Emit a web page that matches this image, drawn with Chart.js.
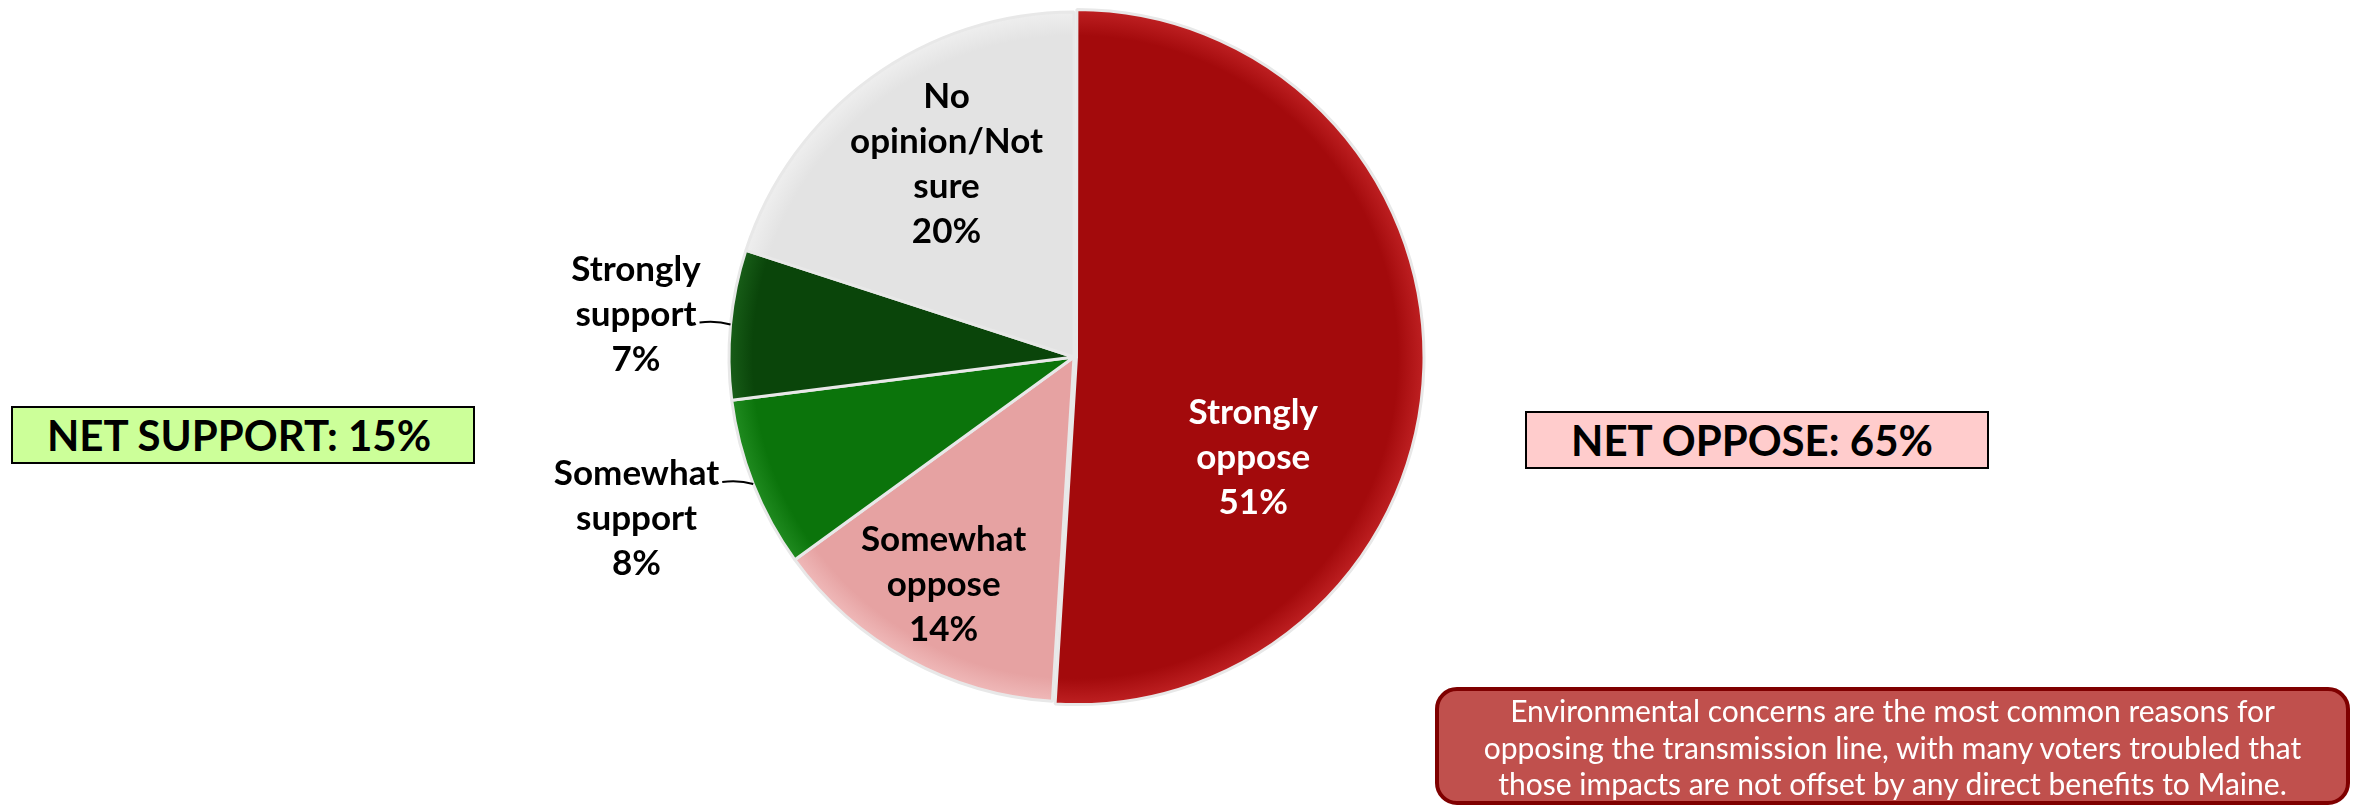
<!DOCTYPE html>
<html>
<head>
<meta charset="utf-8">
<script src="https://cdn.jsdelivr.net/npm/chart.js@4/dist/chart.umd.min.js"></script>
<style>
  html, body { margin: 0; padding: 0; background: #fff; }
  body { width: 2356px; height: 807px; position: relative; overflow: hidden; font-family: Lato, 'Open Sans', sans-serif; }
  #pie { position: absolute; left: 0; top: 0; }
  .net { position: absolute; box-sizing: border-box; border: 2px solid #000; font-weight: 700; font-size: 42px; color: #000; text-align: center; line-height: 54px; }
  #netSupport { left: 11px; top: 406px; width: 464px; height: 58px; background: #ccff99; padding-right: 8px; }
  #netOppose { left: 1525px; top: 411px; width: 464px; height: 58px; background: #ffcccc; padding-right: 10px; }
  #note { position: absolute; left: 1435px; top: 687px; width: 915px; height: 118px; box-sizing: border-box;
          background: #c0504d; border: 4px solid #7f0000; border-radius: 22px; color: #fff;
          font-size: 30px; line-height: 36.5px; text-align: center; padding-top: 1px; }
</style>
</head>
<body>
<canvas id="pie" width="2356" height="807"></canvas>
<div class="net" id="netSupport">NET SUPPORT: 15%</div>
<div class="net" id="netOppose">NET OPPOSE: 65%</div>
<div id="note">Environmental concerns are the most common reasons for<br>opposing the transmission line, with many voters troubled that<br>those impacts are not offset by any direct benefits to Maine.</div>
<script>
// slices, clockwise from 12 o'clock
const categories = ['Strongly oppose', 'Somewhat oppose', 'Somewhat support', 'Strongly support', 'No opinion/Not sure'];
const shares = [51, 14, 8, 7, 20];
const labelLines = [
  ['Strongly', 'oppose', '51%'],
  ['Somewhat', 'oppose', '14%'],
  ['Somewhat', 'support', '8%'],
  ['Strongly', 'support', '7%'],
  ['No', 'opinion/Not', 'sure', '20%']
];
const sliceColors = ['#a30a0c', '#e6a2a2', '#0b740b', '#0a450a', '#e3e3e3'];
const rimColors = ['#c8282a', '#f4c4c4', '#2a962a', '#1f6a1f', '#f4f4f4'];
const labelColors = ['#fff', '#000', '#000', '#000', '#000'];
const sliceOffset = [10, 0, 0, 0, 0];

// label placement: inside (fraction along slice, fraction of radius) or outside with leader
const labelPlace = [
  { inside: true, along: 0.657, radial: 0.57 },
  { inside: true, along: 0.52, radial: 0.76 },
  { inside: false, leader: 31, line: 0 },
  { inside: false, leader: 31, line: 1 },
  { inside: true, along: 0.535, radial: 0.67 }
];

const PIE_RADIUS = 345;
const LABEL_FONT = 'bold 35px Lato, "Open Sans", sans-serif';
const LINE_H = 45;

function sliceFill(context) {
  const chart = context.chart;
  const area = chart.chartArea;
  if (!area) return sliceColors[context.dataIndex];
  const cx = (area.left + area.right) / 2;
  const cy = (area.top + area.bottom) / 2;
  const g = chart.ctx.createRadialGradient(cx, cy, 0, cx, cy, PIE_RADIUS + 12);
  const i = context.dataIndex;
  g.addColorStop(0, sliceColors[i]);
  g.addColorStop(0.9, sliceColors[i]);
  g.addColorStop(1, rimColors[i]);
  return g;
}

const labelPlugin = {
  id: 'sliceLabels',
  afterDatasetsDraw(chart) {
    const ctx = chart.ctx;
    const arcs = chart.getDatasetMeta(0).data;
    ctx.save();
    ctx.font = LABEL_FONT;
    ctx.textAlign = 'center';
    ctx.textBaseline = 'middle';
    arcs.forEach((arc, i) => {
      const p = arc.getProps(['x', 'y', 'startAngle', 'endAngle', 'outerRadius'], true);
      const lines = labelLines[i];
      const place = labelPlace[i];
      const mid = (p.startAngle + p.endAngle) / 2;
      const ox = sliceOffset[i] * Math.cos(mid);
      const oy = sliceOffset[i] * Math.sin(mid);
      ctx.fillStyle = labelColors[i];
      if (place.inside) {
        const a = p.startAngle + (p.endAngle - p.startAngle) * place.along;
        const r = p.outerRadius * place.radial;
        const lx = p.x + ox + r * Math.cos(a);
        const ly = p.y + oy + r * Math.sin(a);
        const top = ly - (lines.length - 1) * LINE_H / 2;
        lines.forEach((t, k) => ctx.fillText(t, lx, top + k * LINE_H));
      } else {
        const ex = p.x + p.outerRadius * Math.cos(mid);
        const ey = p.y + p.outerRadius * Math.sin(mid);
        const tx = ex - place.leader;
        const ty = ey - 2;
        ctx.strokeStyle = '#000';
        ctx.lineWidth = 2;
        ctx.beginPath();
        ctx.moveTo(ex, ey);
        ctx.quadraticCurveTo(ex - place.leader * 0.45, ey - 4, tx, ty);
        ctx.stroke();
        const w = ctx.measureText(lines[place.line]).width;
        const cx = tx - 3 - w / 2;
        const top = ty - 8 - place.line * LINE_H;
        lines.forEach((t, k) => ctx.fillText(t, cx, top + k * LINE_H));
      }
    });
    ctx.restore();
  }
};

new Chart(document.getElementById('pie'), {
  type: 'pie',
  data: {
    labels: categories,
    datasets: [{
      data: shares,
      backgroundColor: sliceFill,
      borderColor: '#e8e8e8',
      borderWidth: 3,
      offset: sliceOffset
    }]
  },
  options: {
    responsive: false,
    animation: false,
    radius: PIE_RADIUS,
    layout: { padding: { left: 0, right: 208, top: 0, bottom: 93 } },
    plugins: {
      legend: { display: false },
      tooltip: { enabled: false }
    }
  },
  plugins: [labelPlugin]
});
</script>
</body>
</html>
